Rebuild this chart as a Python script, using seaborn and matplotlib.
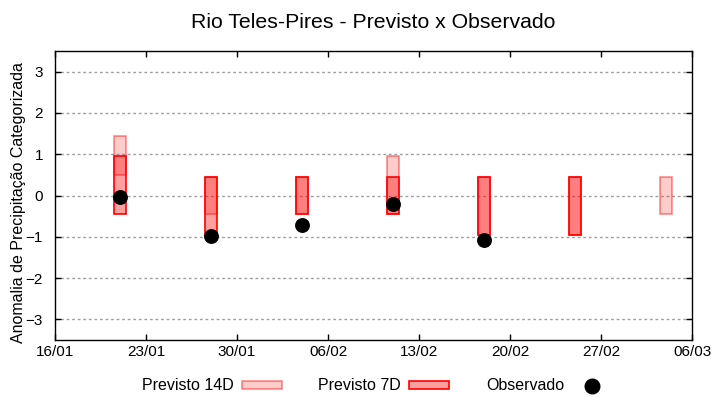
import pandas as pd
import matplotlib
matplotlib.use("Agg")
import matplotlib.pyplot as plt
import matplotlib.dates as mdates
from matplotlib.patches import Patch
from matplotlib.lines import Line2D
import seaborn as sns

# weekly forecasts (categorised precipitation anomaly)
datas_14d = ["2023-01-21", "2023-01-28", "2023-02-04", "2023-02-11",
             "2023-02-18", "2023-02-25", "2023-03-04"]
min_14d = [0.5, -0.45, -0.45, -0.45, -0.95, -0.95, -0.45]
max_14d = [1.45, 0.45, 0.45, 0.95, 0.45, 0.45, 0.45]

datas_7d = ["2023-01-21", "2023-01-28", "2023-02-04", "2023-02-11",
            "2023-02-18", "2023-02-25"]
min_7d = [-0.45, -0.95, -0.45, -0.45, -0.95, -0.95]
max_7d = [0.95, 0.45, 0.45, 0.45, 0.45, 0.45]

datas_obs = ["2023-01-21", "2023-01-28", "2023-02-04", "2023-02-11", "2023-02-18"]
observado = [-0.03, -0.98, -0.72, -0.21, -1.08]

xticks = ["2023-01-16", "2023-01-23", "2023-01-30", "2023-02-06",
          "2023-02-13", "2023-02-20", "2023-02-27", "2023-03-06"]
yticks = [-3, -2, -1, 0, 1, 2, 3]

d14 = pd.DataFrame({"data": pd.to_datetime(datas_14d), "min": min_14d, "max": max_14d})
d7 = pd.DataFrame({"data": pd.to_datetime(datas_7d), "min": min_7d, "max": max_7d})
obs = pd.DataFrame({"data": pd.to_datetime(datas_obs), "obs": observado})

sns.set_style("ticks")
plt.rcParams["font.family"] = ["Liberation Sans", "DejaVu Sans"]
plt.rcParams["text.color"] = "black"
plt.rcParams["axes.labelcolor"] = "black"

c14_face = (1, 0, 0, 0.2)
c14_edge = (1, 0, 0, 0.45)
c7_face = (1, 0, 0, 0.375)
c7_edge = (1, 0, 0, 1)

fig = plt.figure(figsize=(7.2, 4), dpi=100)
ax = fig.add_axes([55 / 720, 60 / 400, 637 / 720, 289 / 400])

ax.bar(d14["data"], d14["max"] - d14["min"], bottom=d14["min"], width=0.9,
       facecolor=c14_face, edgecolor=c14_edge, linewidth=1.2, zorder=2)
ax.bar(d7["data"], d7["max"] - d7["min"], bottom=d7["min"], width=0.9,
       facecolor=c7_face, edgecolor=c7_edge, linewidth=1.2, zorder=3)
sns.scatterplot(data=obs, x="data", y="obs", color="black", s=115,
                linewidth=0, zorder=4, ax=ax, legend=False)

ax.set_xlim(pd.Timestamp("2023-01-16"), pd.Timestamp("2023-03-06"))
ax.set_ylim(-3.5, 3.5)
ax.set_xticks(pd.to_datetime(xticks))
ax.xaxis.set_major_formatter(mdates.DateFormatter("%d/%m"))
ax.set_yticks(yticks)
ax.grid(axis="y", color="#a0a0a0", linestyle=(0, (2, 2)), linewidth=1, zorder=1)
ax.grid(axis="x", visible=False)
ax.set_axisbelow(True)

for s in ax.spines.values():
    s.set_color("black")
    s.set_linewidth(1)
    s.set_visible(True)

ax.tick_params(direction="in", length=4, width=1, top=True, right=True,
               labelsize=11, colors="black")
ax.tick_params(axis="x", pad=3.6)
ax.tick_params(axis="y", pad=8.6)

ax.set_xlabel("")
ax.set_ylabel("Anomalia de Precipitação Categorizada", fontsize=11.5, color="black")
ax.yaxis.set_label_coords(-0.045, 0.477)

fig.text(373 / 720, 1 - 27.5 / 400, "Rio Teles-Pires - Previsto x Observado",
         ha="center", va="baseline", fontsize=15.3, color="black")

handles = [
    Patch(facecolor=c14_face, edgecolor=c14_edge, linewidth=1.2, label="Previsto 14D"),
    Patch(facecolor=c7_face, edgecolor=c7_edge, linewidth=1.2, label="Previsto 7D"),
    Line2D([], [], marker="o", color="black", linestyle="none", markersize=10.5,
           label="Observado"),
]
leg = fig.legend(handles=handles, loc="center", bbox_to_anchor=(377 / 720, 1 - 386 / 400),
                 ncol=3, frameon=False, markerfirst=False, handlelength=2.5,
                 handleheight=0.4, handletextpad=0.5, columnspacing=2.3, fontsize=11.5)
for t in leg.get_texts():
    t.set_color("black")

fig.savefig("out.png", dpi=100)
